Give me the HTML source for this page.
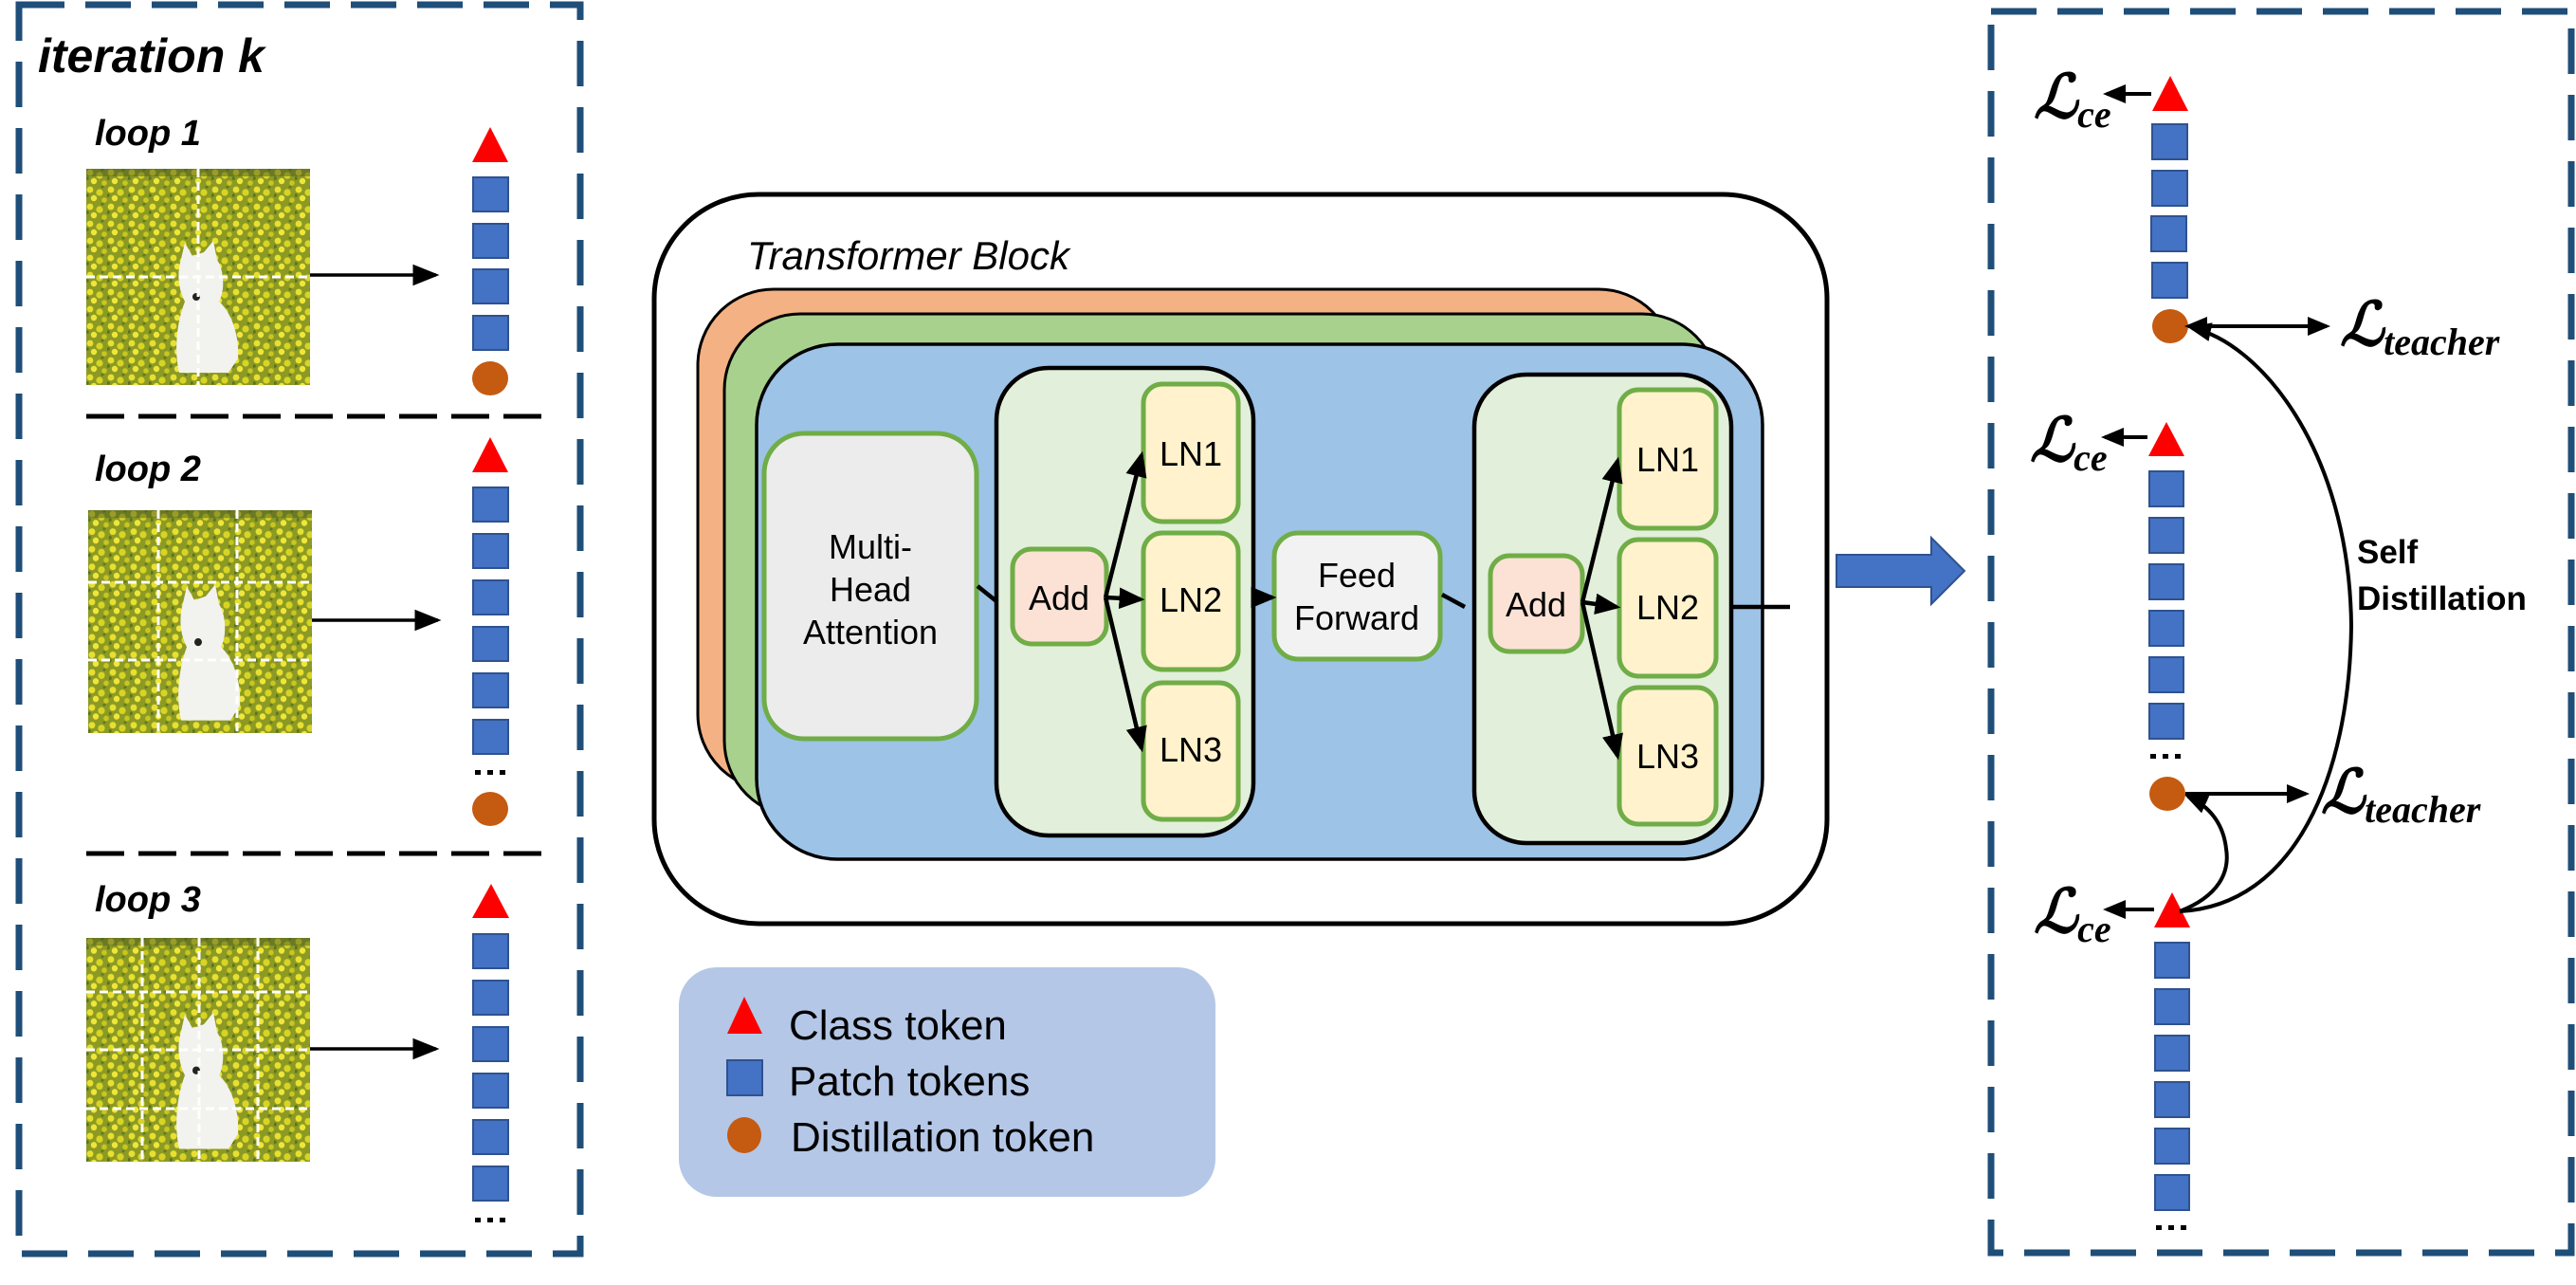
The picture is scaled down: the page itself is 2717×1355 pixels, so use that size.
<!DOCTYPE html>
<html><head><meta charset="utf-8"><style>
html,body{margin:0;padding:0;background:#fff;}
svg{display:block;}
</style></head><body>
<svg width="2717" height="1355" viewBox="0 0 2717 1355" xmlns="http://www.w3.org/2000/svg">
<defs>
<marker id="ah" markerWidth="8" markerHeight="8" refX="7" refY="4" orient="auto" markerUnits="strokeWidth"><path d="M0,0.8 L8,4 L0,7.2 Z" fill="#000"/></marker>
<marker id="ah2" markerWidth="6" markerHeight="6" refX="5" refY="3" orient="auto" markerUnits="strokeWidth"><path d="M0,0.5 L6,3 L0,5.5 Z" fill="#000"/></marker>
<pattern id="fld" width="22" height="18" patternUnits="userSpaceOnUse">
<rect width="22" height="18" fill="#8c9a24"/>
<circle cx="4" cy="4" r="3.4" fill="#e8e030"/><circle cx="14" cy="7" r="3.6" fill="#d8d424"/>
<circle cx="8" cy="13" r="3.2" fill="#efe63a"/><circle cx="19" cy="15" r="2.8" fill="#c9c620"/>
<circle cx="1" cy="10" r="1.8" fill="#5a7420"/><circle cx="17" cy="1" r="1.6" fill="#607a22"/>
</pattern>
<symbol id="dog" viewBox="0 0 236 228" preserveAspectRatio="none">
<rect width="236" height="228" fill="url(#fld)"/>
<rect width="236" height="8" fill="#4a5a20" opacity="0.5"/>
<path d="M100,95 L104,78 L112,92 L124,88 L134,76 L138,96 C146,108 146,130 140,140 C152,150 162,175 160,200 L150,215 L98,215 C92,190 96,160 104,140 C96,125 96,108 100,95 Z" fill="#f2f2ee"/>
<circle cx="116" cy="135" r="4" fill="#222"/>
</symbol>
</defs>

<rect x="20" y="5" width="592" height="1317" fill="none" stroke="#1f4e79" stroke-width="7" stroke-dasharray="48 22"/>
<text x="40" y="76" font-family="Liberation Sans,sans-serif" font-size="50" font-style="italic" font-weight="bold" fill="#000">iteration k</text>

<text x="100" y="153" font-family="Liberation Sans,sans-serif" font-size="38" font-style="italic" font-weight="bold">loop 1</text>
<use href="#dog" x="91" y="178" width="236" height="228"/>
<g stroke="#fff" stroke-width="3" stroke-dasharray="9 5">
<line x1="209" y1="178" x2="209" y2="406"/><line x1="91" y1="292" x2="327" y2="292"/></g>
<line x1="327" y1="290" x2="460" y2="290" stroke="#000" stroke-width="3.5" marker-end="url(#ah)"/>

<line x1="91" y1="439" x2="571" y2="439" stroke="#000" stroke-width="5" stroke-dasharray="40 15"/>

<text x="100" y="507" font-family="Liberation Sans,sans-serif" font-size="38" font-style="italic" font-weight="bold">loop 2</text>
<use href="#dog" x="93" y="538" width="236" height="235"/>
<g stroke="#fff" stroke-width="3" stroke-dasharray="9 5">
<line x1="167" y1="538" x2="167" y2="773"/><line x1="250" y1="538" x2="250" y2="773"/>
<line x1="93" y1="614" x2="329" y2="614"/><line x1="93" y1="696" x2="329" y2="696"/></g>
<line x1="329" y1="654" x2="462" y2="654" stroke="#000" stroke-width="3.5" marker-end="url(#ah)"/>

<line x1="91" y1="900" x2="571" y2="900" stroke="#000" stroke-width="5" stroke-dasharray="40 15"/>

<text x="100" y="961" font-family="Liberation Sans,sans-serif" font-size="38" font-style="italic" font-weight="bold">loop 3</text>
<use href="#dog" x="91" y="989" width="236" height="236"/>
<g stroke="#fff" stroke-width="3" stroke-dasharray="9 5">
<line x1="150" y1="989" x2="150" y2="1225"/><line x1="210" y1="989" x2="210" y2="1225"/><line x1="272" y1="989" x2="272" y2="1225"/>
<line x1="91" y1="1046" x2="327" y2="1046"/><line x1="91" y1="1107" x2="327" y2="1107"/><line x1="91" y1="1169" x2="327" y2="1169"/></g>
<line x1="327" y1="1106" x2="460" y2="1106" stroke="#000" stroke-width="3.5" marker-end="url(#ah)"/>

<g fill="#4472c4" stroke="#2f528f" stroke-width="2">
<rect x="499" y="187" width="37" height="36"/><rect x="499" y="236" width="37" height="36"/><rect x="499" y="284" width="37" height="36"/><rect x="499" y="333" width="37" height="36"/>
<rect x="499" y="514" width="37" height="36"/><rect x="499" y="563" width="37" height="36"/><rect x="499" y="612" width="37" height="36"/><rect x="499" y="661" width="37" height="36"/><rect x="499" y="710" width="37" height="36"/><rect x="499" y="759" width="37" height="36"/>
<rect x="499" y="985" width="37" height="36"/><rect x="499" y="1034" width="37" height="36"/><rect x="499" y="1083" width="37" height="36"/><rect x="499" y="1132" width="37" height="36"/><rect x="499" y="1181" width="37" height="36"/><rect x="499" y="1230" width="37" height="36"/>
</g>
<g fill="#ff0000"><path d="M498,171 L517,134 L536,171 Z"/><path d="M498,498 L517,461 L536,498 Z"/><path d="M498,968 L518,932 L537,968 Z"/></g>
<g fill="#c55a11"><ellipse cx="517" cy="399" rx="19" ry="18"/><ellipse cx="517" cy="853" rx="19" ry="18"/></g>
<g fill="#000"><rect x="501" y="812" width="6" height="5"/><rect x="514" y="812" width="6" height="5"/><rect x="527" y="812" width="6" height="5"/>
<rect x="501" y="1284" width="6" height="5"/><rect x="514" y="1284" width="6" height="5"/><rect x="527" y="1284" width="6" height="5"/></g>

<rect x="690" y="205" width="1237" height="769" rx="110" fill="#fff" stroke="#000" stroke-width="5"/>
<text x="788" y="284" font-family="Liberation Sans,sans-serif" font-size="42" font-style="italic">Transformer Block</text>
<rect x="736" y="305" width="1030" height="528" rx="80" fill="#f4b183" stroke="#000" stroke-width="3"/>
<rect x="764" y="331" width="1048" height="530" rx="80" fill="#a9d18e" stroke="#000" stroke-width="3"/>
<rect x="798" y="363" width="1061" height="543" rx="85" fill="#9dc3e6" stroke="#000" stroke-width="3.5"/>

<rect x="806" y="457" width="224" height="322" rx="42" fill="#ececec" stroke="#70ad47" stroke-width="5"/>
<text text-anchor="middle" font-family="Liberation Sans,sans-serif" font-size="36"><tspan x="918" y="589">Multi-</tspan><tspan x="918" y="634">Head</tspan><tspan x="918" y="679">Attention</tspan></text>

<rect x="1051" y="388" width="271" height="493" rx="55" fill="#e2efda" stroke="#000" stroke-width="4.5"/>
<rect x="1068" y="579" width="99" height="100" rx="20" fill="#fbe2d5" stroke="#70ad47" stroke-width="5"/>
<text x="1117" y="643" text-anchor="middle" font-family="Liberation Sans,sans-serif" font-size="36">Add</text>
<g fill="#fff2cc" stroke="#70ad47" stroke-width="5">
<rect x="1206" y="405" width="100" height="145" rx="20"/><rect x="1206" y="562" width="100" height="144" rx="20"/><rect x="1206" y="720" width="100" height="144" rx="20"/>
</g>
<g font-family="Liberation Sans,sans-serif" font-size="36" text-anchor="middle">
<text x="1256" y="491">LN1</text><text x="1256" y="645">LN2</text><text x="1256" y="803">LN3</text></g>

<rect x="1344" y="562" width="175" height="133" rx="25" fill="#f2f2f2" stroke="#70ad47" stroke-width="5"/>
<text text-anchor="middle" font-family="Liberation Sans,sans-serif" font-size="36"><tspan x="1431" y="619">Feed</tspan><tspan x="1431" y="664">Forward</tspan></text>

<rect x="1555" y="395" width="271" height="494" rx="55" fill="#e2efda" stroke="#000" stroke-width="4.5"/>
<rect x="1572" y="586" width="97" height="101" rx="20" fill="#fbe2d5" stroke="#70ad47" stroke-width="5"/>
<text x="1620" y="650" text-anchor="middle" font-family="Liberation Sans,sans-serif" font-size="36">Add</text>
<g fill="#fff2cc" stroke="#70ad47" stroke-width="5">
<rect x="1708" y="411" width="102" height="146" rx="20"/><rect x="1708" y="569" width="102" height="144" rx="20"/><rect x="1708" y="725" width="102" height="144" rx="20"/>
</g>
<g font-family="Liberation Sans,sans-serif" font-size="36" text-anchor="middle">
<text x="1759" y="497">LN1</text><text x="1759" y="653">LN2</text><text x="1759" y="810">LN3</text></g>

<g stroke="#000" stroke-width="4.5" fill="none">
<line x1="1031" y1="618" x2="1051" y2="634"/>
<line x1="1166" y1="630" x2="1204" y2="480" marker-end="url(#ah2)"/>
<line x1="1166" y1="630" x2="1203" y2="632" marker-end="url(#ah2)"/>
<line x1="1166" y1="630" x2="1204" y2="789" marker-end="url(#ah2)"/>
<line x1="1322" y1="630" x2="1342" y2="630" marker-end="url(#ah2)"/>
<line x1="1521" y1="627" x2="1545" y2="640"/>
<line x1="1669" y1="635" x2="1706" y2="486" marker-end="url(#ah2)"/>
<line x1="1669" y1="635" x2="1705" y2="640" marker-end="url(#ah2)"/>
<line x1="1669" y1="635" x2="1706" y2="797" marker-end="url(#ah2)"/>
<line x1="1826" y1="640" x2="1888" y2="640"/>
</g>

<path d="M1937,585 L2037,585 L2037,567 L2072,602 L2037,637 L2037,619 L1937,619 Z" fill="#4472c4" stroke="#2f528f" stroke-width="2"/>

<rect x="716" y="1020" width="566" height="242" rx="40" fill="#b4c7e7"/>
<path d="M767,1090 L785,1051 L804,1090 Z" fill="#ff0000"/>
<rect x="767" y="1118" width="37" height="37" fill="#4472c4" stroke="#2f528f" stroke-width="2"/>
<ellipse cx="785" cy="1197" rx="18" ry="19" fill="#c55a11"/>
<g font-family="Liberation Sans,sans-serif" font-size="44" fill="#000">
<text x="832" y="1096">Class token</text><text x="832" y="1155">Patch tokens</text><text x="834" y="1214">Distillation token</text></g>

<rect x="2100" y="12" width="612" height="1309" fill="none" stroke="#1f4e79" stroke-width="7" stroke-dasharray="48 22"/>
<g fill="#4472c4" stroke="#2f528f" stroke-width="2">
<rect x="2270" y="131" width="37" height="37"/><rect x="2270" y="180" width="37" height="37"/><rect x="2269" y="228" width="37" height="37"/><rect x="2270" y="277" width="37" height="37"/>
<rect x="2267" y="497" width="36" height="37"/><rect x="2267" y="546" width="36" height="37"/><rect x="2267" y="595" width="36" height="37"/><rect x="2267" y="644" width="36" height="37"/><rect x="2267" y="693" width="36" height="37"/><rect x="2267" y="742" width="36" height="37"/>
<rect x="2273" y="994" width="36" height="37"/><rect x="2273" y="1043" width="36" height="37"/><rect x="2273" y="1092" width="36" height="37"/><rect x="2273" y="1141" width="36" height="37"/><rect x="2273" y="1190" width="36" height="37"/><rect x="2273" y="1239" width="36" height="37"/>
</g>
<g fill="#ff0000"><path d="M2270,117 L2289,80 L2308,117 Z"/><path d="M2266,481 L2285,445 L2304,481 Z"/><path d="M2272,978 L2291,941 L2310,978 Z"/></g>
<g fill="#c55a11"><ellipse cx="2289" cy="344" rx="19" ry="18"/><ellipse cx="2286" cy="837" rx="19" ry="18"/></g>
<g fill="#000"><rect x="2268" y="795" width="6" height="5"/><rect x="2281" y="795" width="6" height="5"/><rect x="2294" y="795" width="6" height="5"/>
<rect x="2274" y="1292" width="6" height="5"/><rect x="2287" y="1292" width="6" height="5"/><rect x="2300" y="1292" width="6" height="5"/></g>

<g stroke="#000" stroke-width="4" fill="none">
<line x1="2269" y1="99" x2="2222" y2="99" marker-end="url(#ah2)"/>
<line x1="2265" y1="461" x2="2220" y2="461" marker-end="url(#ah2)"/>
<line x1="2272" y1="959" x2="2222" y2="959" marker-end="url(#ah2)"/>
<line x1="2320" y1="344" x2="2454" y2="344" marker-end="url(#ah2)"/>
<line x1="2312" y1="344" x2="2308" y2="344" marker-end="url(#ah2)"/>
<line x1="2305" y1="837" x2="2432" y2="837" marker-end="url(#ah2)"/>
<path d="M2299,961 C2420,955 2478,820 2480,660 C2478,470 2380,360 2312,346" marker-end="url(#ah2)"/>
<path d="M2299,961 C2340,945 2352,920 2348,895 C2345,868 2330,850 2308,840" marker-end="url(#ah2)"/>
</g>

<g font-family="Liberation Serif,serif" fill="#000" font-weight="bold">
<text x="2145" y="124" font-size="64" font-style="italic">ℒ<tspan font-size="40" dy="10">ce</tspan></text>
<text x="2141" y="486" font-size="64" font-style="italic">ℒ<tspan font-size="40" dy="10">ce</tspan></text>
<text x="2145" y="983" font-size="64" font-style="italic">ℒ<tspan font-size="40" dy="10">ce</tspan></text>
<text x="2468" y="364" font-size="64" font-style="italic">ℒ<tspan font-size="40" dy="10">teacher</tspan></text>
<text x="2448" y="857" font-size="64" font-style="italic">ℒ<tspan font-size="40" dy="10">teacher</tspan></text>
</g>
<text font-family="Liberation Sans,sans-serif" font-size="35" font-weight="bold" fill="#000"><tspan x="2486" y="594">Self</tspan><tspan x="2486" y="643">Distillation</tspan></text>
</svg>
</body></html>
